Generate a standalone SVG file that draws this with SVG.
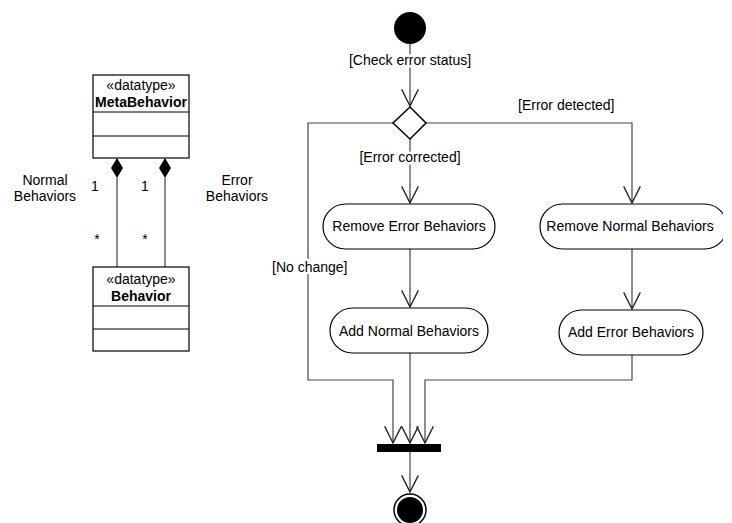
<svg xmlns="http://www.w3.org/2000/svg" width="732" height="523" viewBox="0 0 732 523">
<style>
text{font-family:"Liberation Sans",Arial,sans-serif;font-size:14px;fill:#000}
.c{text-anchor:middle}
.b{font-weight:bold}
.lbl{paint-order:stroke;stroke:#fff;stroke-width:5px;stroke-linejoin:round}
.box{fill:#fff;stroke:#000;stroke-width:1.2}
.act{fill:#fff;stroke:#000;stroke-width:1.2}
.edge{fill:none;stroke:#444;stroke-width:1.2}
</style>
<defs>
<marker id="open" markerUnits="userSpaceOnUse" markerWidth="20" markerHeight="20" viewBox="-16 -9 18 18" refX="0" refY="0" orient="auto" overflow="visible">
<path d="M-15,-7.5 L0,0 L-15,7.5" fill="none" stroke="#222" stroke-width="1.2"/>
</marker>
<clipPath id="clipR"><rect x="0" y="0" width="723" height="523"/></clipPath>
</defs>
<rect width="732" height="523" fill="#fff"/>

<g id="connectors">
<path class="edge" d="M410,44 L410,106" marker-end="url(#open)"/>
<path class="edge" d="M393,123 L308,123 L308,380 L393,380 L393,443" marker-end="url(#open)"/>
<path class="edge" d="M410,139 L410,203" marker-end="url(#open)"/>
<path class="edge" d="M426,123 L632,123 L632,203" marker-end="url(#open)"/>
<path class="edge" d="M410,249 L410,307" marker-end="url(#open)"/>
<path class="edge" d="M632,249 L632,309" marker-end="url(#open)"/>
<path class="edge" d="M410,353 L410,443" marker-end="url(#open)"/>
<path class="edge" d="M632,355 L632,380 L425,380 L425,443" marker-end="url(#open)"/>
<path class="edge" d="M410,452 L410,492" marker-end="url(#open)"/>
<text class="c lbl" x="410" y="65">[Check error status]</text>
<text class="c lbl" x="410" y="162">[Error corrected]</text>
<text class="lbl" x="518" y="110">[Error detected]</text>
<text class="lbl" x="272" y="272">[No change]</text>
<!-- class associations -->
<path fill="none" stroke="#444" stroke-width="1.2" d="M117,178 L117,267 M165,178 L165,267"/>
<polygon points="117,158 123,168 117,178 111,168" fill="#000"/>
<polygon points="165,158 171,168 165,178 159,168" fill="#000"/>
<text class="c" x="45" y="185">Normal</text>
<text class="c" x="45" y="201">Behaviors</text>
<text class="c" x="237" y="185">Error</text>
<text class="c" x="237" y="201">Behaviors</text>
<text class="c" x="95" y="191">1</text>
<text class="c" x="97" y="244">*</text>
<text class="c" x="145" y="191">1</text>
<text class="c" x="145" y="244">*</text>
</g>

<g id="MetaBehavior">
<rect class="box" x="93" y="75" width="96" height="83"/>
<line x1="93" y1="112" x2="189" y2="112" stroke="#000" stroke-width="1.2"/>
<line x1="93" y1="136" x2="189" y2="136" stroke="#000" stroke-width="1.2"/>
<text class="c" x="141" y="90">«datatype»</text>
<text class="c b" x="141" y="107">MetaBehavior</text>
</g>

<g id="Behavior">
<rect class="box" x="93" y="267" width="96" height="84"/>
<line x1="93" y1="306" x2="189" y2="306" stroke="#000" stroke-width="1.2"/>
<line x1="93" y1="329" x2="189" y2="329" stroke="#000" stroke-width="1.2"/>
<text class="c" x="141" y="284">«datatype»</text>
<text class="c b" x="141" y="301">Behavior</text>
</g>

<g id="initial">
<circle cx="410" cy="28" r="16" fill="#000"/>
</g>

<g id="decision">
<polygon points="410,107 426,123 410,139 393,123" fill="#fff" stroke="#000" stroke-width="1.5"/>
</g>

<g id="removeError">
<rect class="act" x="323" y="204" width="172" height="45" rx="22.5"/>
<text class="c" x="409" y="231">Remove Error Behaviors</text>
</g>

<g id="removeNormal">
<rect class="act" x="540" y="204" width="187" height="45" rx="22.5" clip-path="url(#clipR)"/>
<text class="c" x="630" y="231">Remove Normal Behaviors</text>
</g>

<g id="addNormal">
<rect class="act" x="330" y="308" width="158" height="45" rx="22.5"/>
<text class="c" x="409" y="336">Add Normal Behaviors</text>
</g>

<g id="addError">
<rect class="act" x="559" y="310" width="144" height="45" rx="22.5"/>
<text class="c" x="631" y="337">Add Error Behaviors</text>
</g>

<g id="join">
<rect x="377" y="444" width="64" height="8" fill="#000"/>
</g>

<g id="final">
<circle cx="410" cy="510" r="16" fill="#fff" stroke="#000" stroke-width="1.5"/>
<circle cx="410" cy="510" r="13" fill="#000"/>
</g>
</svg>
